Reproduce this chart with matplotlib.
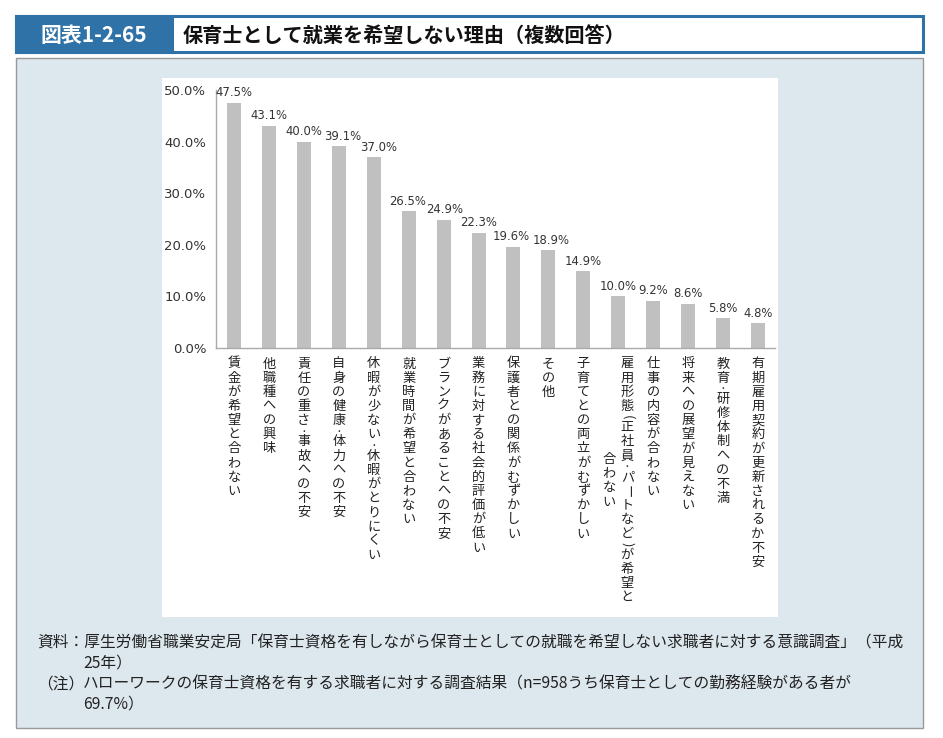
import matplotlib.pyplot as plt
from matplotlib.patches import Rectangle

plt.rcParams['font.family'] = ['Noto Sans CJK JP', 'DejaVu Sans']

# data
categories = ["賃金が希望と合わない", "他職種への興味", "責任の重さ・事故への不安",
              "自身の健康・体力への不安", "休暇が少ない・休暇がとりにくい",
              "就業時間が希望と合わない", "ブランクがあることへの不安",
              "業務に対する社会的評価が低い", "保護者との関係がむずかしい", "その他",
              "子育てとの両立がむずかしい", "雇用形態(正社員・パートなど)が希望と\n合わない",
              "仕事の内容が合わない", "将来への展望が見えない", "教育・研修体制への不満",
              "有期雇用契約が更新されるか不安"]
values = [47.5, 43.1, 40.0, 39.1, 37.0, 26.5, 24.9, 22.3, 19.6, 18.9, 14.9, 10.0, 9.2, 8.6, 5.8, 4.8]
yticks = [0, 10, 20, 30, 40, 50]

fig_title = "保育士として就業を希望しない理由（複数回答）"
fig_no = "図表1-2-65"
notes = [
    (37, 643, "資料：厚生労働省職業安定局「保育士資格を有しながら保育士としての就職を希望しない求職者に対する意識調査」（平成"),
    (83, 663, "25年）"),
    (37, 684, "（注）"),
    (83, 684, "ハローワークの保育士資格を有する求職者に対する調査結果（n=958うち保育士としての勤務経験がある者が"),
    (83, 704, "69.7%）"),
]

W, H = 943, 738
fig = plt.figure(figsize=(W / 100, H / 100), dpi=100)
fig.patch.set_facecolor('white')

# background drawing in pixel coordinates
bg = fig.add_axes([0, 0, 1, 1])
bg.set_xlim(0, W)
bg.set_ylim(H, 0)
bg.axis('off')

blue = '#2f72a8'
bg.add_patch(Rectangle((16, 16), 907, 36, facecolor='white', edgecolor=blue, lw=2.2))
bg.add_patch(Rectangle((16, 16), 156, 36, facecolor=blue, edgecolor=blue, lw=2.2))
bg.text(94, 35, fig_no, color='white', fontsize=15, fontweight='bold', ha='center', va='center')
bg.text(183, 35, fig_title, color='#111111', fontsize=14.5, fontweight='bold', ha='left', va='center')

bg.add_patch(Rectangle((16, 58), 907, 670, facecolor='#dde7ee', edgecolor='#999999', lw=1.0))
bg.add_patch(Rectangle((162, 78), 616, 539, facecolor='white', edgecolor='none'))

for x, y, s in notes:
    bg.text(x, y, s, fontsize=11.3, color='#222222', ha='left', va='center')

# main chart
ax_left, ax_right, ax_top, ax_bottom = 216, 775, 90, 348
ax = fig.add_axes([ax_left / W, 1 - ax_bottom / H, (ax_right - ax_left) / W, (ax_bottom - ax_top) / H])
ax.patch.set_alpha(0)

x = list(range(len(values)))
ax.bar(x, values, width=0.4, color='#c0c0c0')
ax.set_xlim(-0.52, len(values) - 0.51)
ax.set_ylim(0, 50)
ax.set_yticks(yticks)
ax.set_yticklabels([f"{v:.1f}%" for v in yticks], fontsize=9.5, color='#333333', family='DejaVu Sans')
ax.tick_params(axis='y', length=0, pad=7)
ax.set_xticks([])
for side in ['top', 'right']:
    ax.spines[side].set_visible(False)
for side in ['left', 'bottom']:
    ax.spines[side].set_color('#aaaaaa')
    ax.spines[side].set_linewidth(1.0)

# small sideways nudges like the original, so neighbouring labels do not collide
label_dx = {3: 3, 4: 3.5, 5: -1, 6: 1, 8: -1.7, 9: 1.7}
for i, v in enumerate(values):
    ax.annotate(f"{v:.1f}%", (i, v), xytext=(label_dx.get(i, 0), 2.5), textcoords='offset points',
                ha='center', va='bottom', fontsize=8.4, color='#333333', family='DejaVu Sans')

# vertical (tategaki) category labels, one glyph at a time
pitch = 10.2
start = -11.5
rot_chars = {'ー': -90, '(': -90, ')': -90}
half_chars = {'(', ')', '・'}


def column_positions(text):
    pos, y = [], 0.0
    for ch in text:
        step = pitch * (0.5 if ch in half_chars else 1.0)
        pos.append(y - step / 2)
        y -= step
    return pos, -y


def draw_column(i, text, dx, y0):
    pos, _ = column_positions(text)
    for ch, p in zip(text, pos):
        ax.annotate(ch, (i, 0), xytext=(dx, y0 + pitch / 2 + p), textcoords='offset points',
                    ha='center', va='center', fontsize=4.8 if ch == '・' else 9.5,
                    fontweight='bold' if ch == '・' else 'normal', color='#222222',
                    rotation=rot_chars.get(ch, 0), annotation_clip=False)


for i, label in enumerate(categories):
    cols = label.split('\n')
    if len(cols) == 1:
        draw_column(i, cols[0], 0, start)
    else:
        _, len1 = column_positions(cols[0])
        _, len2 = column_positions(cols[1])
        draw_column(i, cols[0], 6.5, start)
        draw_column(i, cols[1], -6.5, start - (len1 - len2) / 2)

fig.savefig('out.png', dpi=100)
